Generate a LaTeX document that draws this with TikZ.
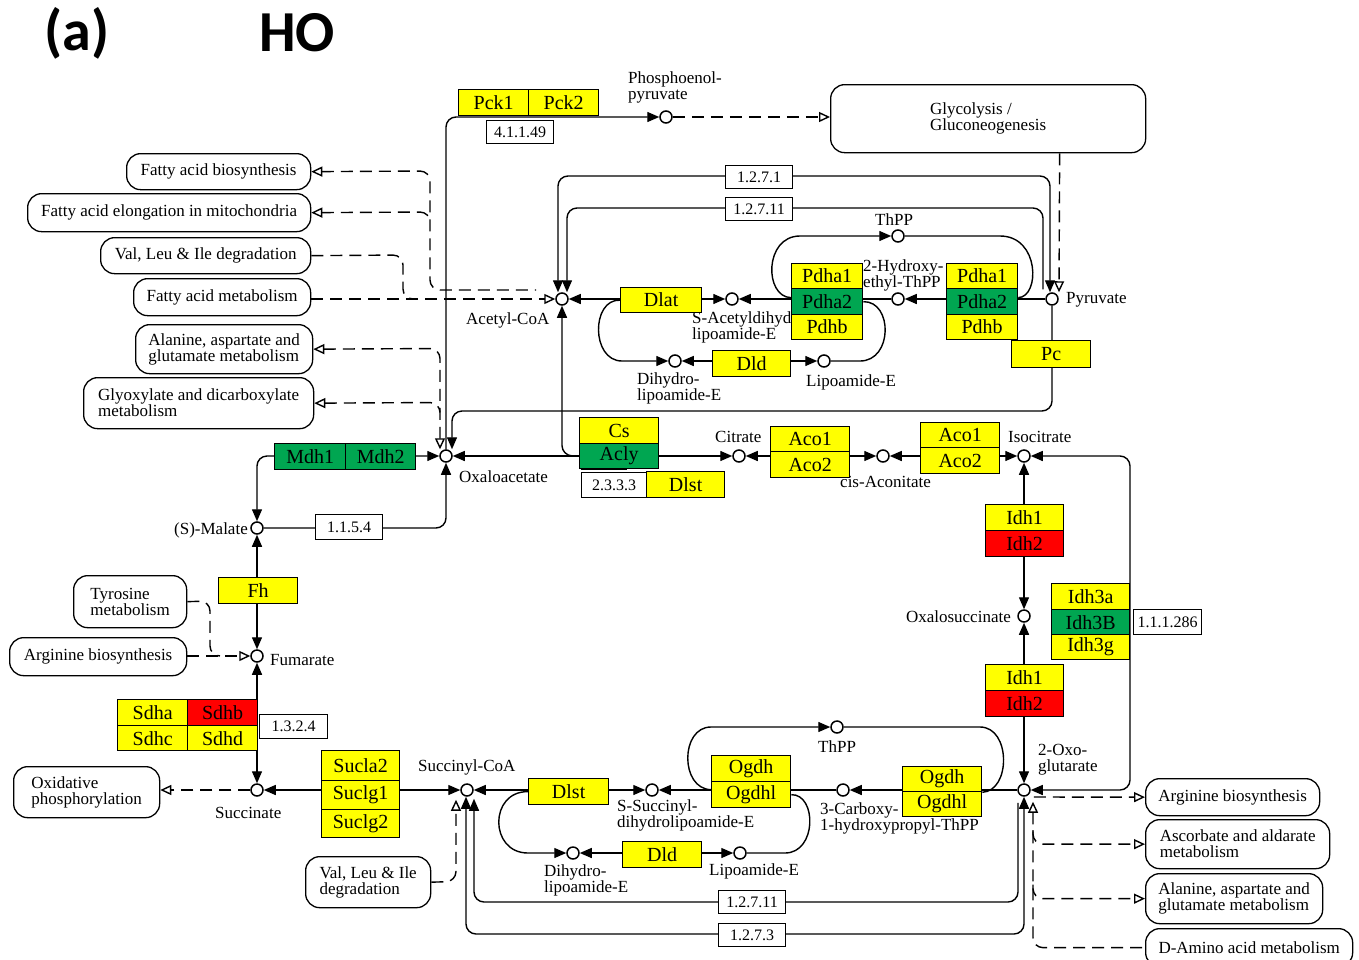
\documentclass[tikz,border=0pt]{standalone}
\usepackage{fontspec}
\setmainfont{Liberation Serif}
\newfontfamily\titlefont{Carlito}
\usetikzlibrary{arrows.meta,backgrounds,calc}
\definecolor{ky}{RGB}{255,255,0}
\definecolor{kg}{RGB}{0,166,81}
\definecolor{kr}{RGB}{255,0,0}
\newcommand\lblfont{\fontsize{17}{16}\selectfont}
\newcommand\enzfont{\fontsize{20}{20}\selectfont}
\newcommand\ecfont{\fontsize{16}{16}\selectfont}
\newcommand\EB[7]{\node[ebox, fill=#6, minimum width=#4pt, minimum height=#5pt] (#1) at (#2,#3) {#7};}
\newcommand\MB[6]{\node[mapbox, minimum width=#4pt, minimum height=#5pt] (#1) at (#2,#3) {#6};}
\tikzset{
  >={Triangle[length=12pt,width=10pt]},
  OT/.tip={Triangle[open,length=11pt,width=10pt]},
  cpd/.style={circle, draw, fill=white, line width=1.5pt, minimum size=12pt, inner sep=0pt},
  lbl/.style={font=\lblfont, inner sep=0pt, align=left},
  ebox/.style={draw, line width=1.3pt, inner sep=0pt, font=\enzfont, anchor=north west},
  ecbox/.style={ebox, fill=white, font=\ecfont},
  mapbox/.style={draw, rounded corners=14pt, line width=1.3pt, fill=white, font=\lblfont, align=left, inner sep=0pt, anchor=north west},
  ln/.style={line width=1.4pt},
  dsh/.style={line width=1.4pt, dash pattern=on 12pt off 7pt},
  rc/.style={rounded corners=10pt}
}
\pgfdeclarelayer{background}
\pgfsetlayers{background,main}
\begin{document}
\begin{tikzpicture}[x=1pt,y=-1pt]
\useasboundingbox (0,0) rectangle (1359,959);
% title
\node[font=\titlefont\bfseries\fontsize{58}{58}\selectfont, inner sep=0pt] (ta) at (77,33) {(a)};
\node[font=\titlefont\bfseries\fontsize{58}{58}\selectfont, inner sep=0pt] (tho) at (297,33) {HO};

% compounds
\node[cpd] (pep) at (666,117) {};
\node[cpd] (acoa) at (562,299) {};
\node[cpd] (pyr) at (1052,299) {};
\node[cpd] (sacet) at (732,299) {};
\node[cpd] (heth) at (898,299) {};
\node[cpd] (thppa) at (898,236) {};
\node[cpd] (dhla) at (675,361) {};
\node[cpd] (lipa) at (824,361) {};
\node[cpd] (oaa) at (446,456) {};
\node[cpd] (cit) at (739,456) {};
\node[cpd] (cisa) at (883,456) {};
\node[cpd] (icit) at (1024,456) {};
\node[cpd] (oxs) at (1024,616) {};
\node[cpd] (oxg) at (1024,790) {};
\node[cpd] (mal) at (257,528) {};
\node[cpd] (fum) at (257,656) {};
\node[cpd] (suc) at (257,790) {};
\node[cpd] (scoa) at (467,790) {};
\node[cpd] (ssuc) at (652,790) {};
\node[cpd] (carb) at (843,790) {};
\node[cpd] (thppb) at (837,727) {};
\node[cpd] (dhlb) at (573,853) {};
\node[cpd] (lipb) at (740,853) {};

% compound labels
\node[lbl, anchor=west] (lpep) at (628,87) {Phosphoenol-\\pyruvate};
\node[lbl, anchor=west] (lacoa) at (466,320) {Acetyl-CoA};
\node[lbl, anchor=west] (lpyr) at (1066,300) {Pyruvate};
\node[lbl, anchor=west] (lsacet) at (692,327) {S-Acetyldihydro-\\lipoamide-E};
\node[lbl, anchor=west] (lheth) at (863,275) {2-Hydroxy-\\ethyl-ThPP};
\node[lbl, anchor=west] (lthppa) at (875,220) {ThPP};
\node[lbl, anchor=west] (ldhla) at (637,388) {Dihydro-\\lipoamide-E};
\node[lbl, anchor=west] (llipa) at (806,382) {Lipoamide-E};
\node[lbl, anchor=west] (loaa) at (459,477) {Oxaloacetate};
\node[lbl, anchor=west] (lcit) at (715,437) {Citrate};
\node[lbl, anchor=west] (lcisa) at (840,482) {cis-Aconitate};
\node[lbl, anchor=west] (licit) at (1008,437) {Isocitrate};
\node[lbl, anchor=east] (loxs) at (1011,617) {Oxalosuccinate};
\node[lbl, anchor=west] (loxg) at (1038,760) {2-Oxo-\\glutarate};
\node[lbl, anchor=east] (lmal) at (248,530) {(S)-Malate};
\node[lbl, anchor=west] (lfum) at (270,660) {Fumarate};
\node[lbl, anchor=west] (lsuc) at (215,813) {Succinate};
\node[lbl, anchor=west] (lscoa) at (418,767) {Succinyl-CoA};
\node[lbl, anchor=west] (lssuc) at (617,815) {S-Succinyl-\\dihydrolipoamide-E};
\node[lbl, anchor=west] (lcarb) at (820,818) {3-Carboxy-\\1-hydroxypropyl-ThPP};
\node[lbl, anchor=west] (lthppb) at (818,747) {ThPP};
\node[lbl, anchor=west] (ldhlb) at (544,880) {Dihydro-\\lipoamide-E};
\node[lbl, anchor=west] (llipb) at (709,871) {Lipoamide-E};

% map boxes
\MB{glyc}{830}{84}{315}{68}{Glycolysis /\\Gluconeogenesis}
\MB{fab}{126}{153}{184}{36}{Fatty acid biosynthesis}
\MB{fae}{27}{193}{283}{38}{Fatty acid elongation in mitochondria}
\MB{val1}{100}{237}{210}{36}{Val, Leu \& Ile degradation}
\MB{fam}{133}{278}{177}{37}{Fatty acid metabolism}
\MB{ala1}{135}{324}{177}{49}{Alanine, aspartate and\\glutamate metabolism}
\MB{gly}{83}{377}{230}{51}{Glyoxylate and dicarboxylate\\metabolism}
\MB{tyr}{73}{575}{113}{52}{Tyrosine\\metabolism}
\MB{arga}{9}{637}{177}{38}{Arginine biosynthesis}
\MB{oxp}{13}{766}{146}{51}{Oxidative\\phosphorylation}
\MB{val2}{305}{856}{125}{51}{Val, Leu \& Ile\\degradation}
\MB{argb}{1145}{778}{174}{37}{Arginine biosynthesis}
\MB{asc}{1145}{819}{184}{49}{Ascorbate and aldarate\\metabolism}
\MB{alab}{1145}{873}{177}{50}{Alanine, aspartate and\\glutamate metabolism}
\MB{dam}{1145}{928}{207}{38}{D-Amino acid metabolism}

% enzyme boxes
\EB{pcka}{458}{89}{70}{26}{ky}{Pck1}
\EB{pckb}{528}{89}{70}{26}{ky}{Pck2}
\node[ecbox, minimum width=67pt, minimum height=23pt] (ecpck) at (486,120) {4.1.1.49};
\node[ecbox, minimum width=67pt, minimum height=23pt] (ecA) at (725,165) {1.2.7.1};
\node[ecbox, minimum width=67pt, minimum height=23pt] (ecB) at (725,197) {1.2.7.11};
\EB{dlat}{620}{287}{81}{25}{ky}{Dlat}
\EB{pdhLa}{791}{263}{71}{25}{ky}{Pdha1}
\EB{pdhLb}{791}{288}{71}{26}{kg}{Pdha2}
\EB{pdhLc}{791}{314}{71}{25}{ky}{Pdhb}
\EB{pdhRa}{946}{263}{71}{25}{ky}{Pdha1}
\EB{pdhRb}{946}{288}{71}{26}{kg}{Pdha2}
\EB{pdhRc}{946}{314}{71}{25}{ky}{Pdhb}
\EB{pc}{1011}{340}{79}{27}{ky}{Pc}
\EB{dlda}{712}{350}{78}{26}{ky}{Dld}
\EB{cs}{579}{417}{79}{26}{ky}{Cs}
\EB{acly}{579}{443}{79}{25}{kg}{Acly}
\node[ecbox, minimum width=65pt, minimum height=25pt] (ecacl) at (581,472) {2.3.3.3};
\EB{dlsta}{646}{471}{78}{26}{ky}{Dlst}
\EB{acoLa}{770}{426}{79}{25}{ky}{Aco1}
\EB{acoLb}{770}{451}{79}{26}{ky}{Aco2}
\EB{acoRa}{920}{422}{79}{25}{ky}{Aco1}
\EB{acoRb}{920}{447}{79}{26}{ky}{Aco2}
\EB{mdha}{274}{443}{71}{26}{kg}{Mdh1}
\EB{mdhb}{345}{443}{70}{26}{kg}{Mdh2}
\node[ecbox, minimum width=67pt, minimum height=25pt] (ecmal) at (315,514) {1.1.5.4};
\EB{fh}{218}{577}{79}{26}{ky}{Fh}
\EB{idhUa}{985}{504}{78}{26}{ky}{Idh1}
\EB{idhUb}{985}{530}{78}{26}{kr}{Idh2}
\EB{idhca}{1051}{583}{78}{26}{ky}{Idh3a}
\EB{idhcb}{1051}{609}{78}{25}{kg}{Idh3B}
\EB{idhcc}{1051}{634}{78}{25}{ky}{Idh3g}
\node[ecbox, minimum width=68pt, minimum height=25pt] (ecidh) at (1133,609) {1.1.1.286};
\EB{idhLa}{985}{664}{78}{26}{ky}{Idh1}
\EB{idhLb}{985}{690}{78}{26}{kr}{Idh2}
\EB{sdha}{117}{699}{70}{26}{ky}{Sdha}
\EB{sdhb}{187}{699}{70}{26}{kr}{Sdhb}
\EB{sdhc}{117}{725}{70}{25}{ky}{Sdhc}
\EB{sdhd}{187}{725}{70}{25}{ky}{Sdhd}
\node[ecbox, minimum width=68pt, minimum height=24pt] (ecsdh) at (259,714) {1.3.2.4};
\EB{sucla}{321}{750}{78}{30}{ky}{Sucla2}
\EB{suclb}{321}{780}{78}{29}{ky}{Suclg1}
\EB{suclc}{321}{809}{78}{28}{ky}{Suclg2}
\EB{dlstb}{528}{778}{80}{26}{ky}{Dlst}
\EB{ogdhLa}{711}{755}{79}{26}{ky}{Ogdh}
\EB{ogdhLb}{711}{781}{79}{26}{ky}{Ogdhl}
\EB{ogdhRa}{902}{766}{79}{25}{ky}{Ogdh}
\EB{ogdhRb}{902}{791}{79}{25}{ky}{Ogdhl}
\EB{dldb}{622}{841}{79}{26}{ky}{Dld}
\node[ecbox, minimum width=67pt, minimum height=23pt] (ecC) at (718,890) {1.2.7.11};
\node[ecbox, minimum width=67pt, minimum height=23pt] (ecD) at (718,923) {1.2.7.3};

\coordinate (dv) at (1033,0);

\begin{pgfonlayer}{background}
\fill[white] (0,0) rectangle (1359,959);
\draw[line width=1pt] ([yshift=3pt]ecacl.north west) -- ([xshift=-20pt,yshift=3pt]ecacl.north east);
% top
\draw[dsh,-OT] (pep) -- (pep -| glyc.west);
\draw[dsh,-OT] ([xshift=71.5pt]glyc.south) -- ([xshift=7pt]pyr.north);
\draw[ln,<->,rc] ([xshift=-2pt]pyr.north) -- (1050,176) -- (558,176) -- ([xshift=-4pt]acoa.north);
\draw[ln,->,rc] ([xshift=-9pt,yshift=3pt]pyr.north) -- (1043,208) -- (567,208) -- ([xshift=5pt]acoa.north);
\draw[ln,->] (pyr) -- (heth);
\draw[ln,->] (heth) -- (sacet);
\draw[ln,<->] (acoa) -- (sacet);
\draw[ln,->] (dlat.west) .. controls (591,299) and (591,361) .. (622,361) -- (dhla);
\draw[ln,<->] (dhla) -- (lipa);
\draw[ln] (lipa) -- (860,361) .. controls (893,361) and (893,301) .. (pdhLb.east);
\draw[ln,->] ([yshift=4pt]pdhLb.west) .. controls (764,297) and (764,236) .. (800,236) -- (thppa);
\draw[ln] (thppa) -- (1000,236) .. controls (1040,236) and (1040,297) .. ([yshift=4pt]pdhRb.east);
\draw[ln,->,rc] (pyr) -- (1052,411) -- (452,411) -- ([xshift=6pt]oaa.north);
\draw[ln,->,rc] (oaa) -- (446,117) -- (pep);
% left maps
\draw[dsh,-OT] (fam.east |- acoa) -- (acoa);
\draw[dsh,rc] (val1.east) -- (403,255) -- (403,299) -- (413,299);
\draw[dsh,OT-,rc] (fab.east) -- (430,171) -- (430,290) -- (536,290);
\draw[dsh,OT-,rc] (fae.east) -- (430,212) -- (430,222);
\draw[dsh,OT-OT,rc] (ala1.east) -- (440,348.5) -- ([xshift=-6pt]oaa.north);
\draw[dsh,OT-,rc] (gly.east) -- (440,402.5) -- (440,412.5);
% left cycle
\draw[ln,<->,rc] (mal) -- (257,456) -- (oaa);
\draw[ln,->,rc] (mal) -- (446,528) -- (oaa);
\draw[ln,<->] (fum) -- (mal);
\draw[ln,<->] (suc) -- (fum);
\draw[dsh,rc] (tyr.east) -- (210,601) -- (210,656) -- (220,656);
\draw[dsh,-OT] (arga.east |- fum) -- (fum);
\draw[dsh,-OT] (suc) -- (oxp.east |- suc);
\draw[ln,<->] (suc) -- (scoa);
\draw[dsh,-OT,rc] (val2.east) -- (456,881.5) -- ([xshift=-11pt,yshift=-3pt]scoa.south);
% bottom
\draw[ln,->,rc] ([xshift=-6pt,yshift=-6pt]oxg.south) -- (1018,902) -- (474,902) -- ([xshift=7pt,yshift=-2pt]scoa.south);
\draw[ln,<->,rc] (oxg.south) -- (1024,934) -- (466,934) -- ([xshift=-1pt]scoa.south);
\draw[ln,<->] (scoa) -- (ssuc);
\draw[ln,->] (dlstb.west) .. controls (489,791) and (489,853) .. (528,853) -- (dhlb);
\draw[ln,<->] (dhlb) -- (lipb);
\draw[ln] (lipb) -- (785,853) .. controls (817,853) and (817,794) .. (ogdhLb.east);
\draw[ln,->] (carb) -- (ssuc);
\draw[ln,->] (oxg) -- (carb);
\draw[ln,->] ([yshift=5pt]ogdhLb.west) .. controls (680,789) and (680,727) .. (711,727) -- (thppb);
\draw[ln] (thppb) -- (980,727) .. controls (1011,727) and (1011,791) .. (ogdhRa.south east);
% right cycle
\draw[ln,<->] (oxs) -- (icit);
\draw[ln,<->] (oxg) -- (oxs);
\draw[ln,<->,rc] (icit) -- (1130,456) -- (1130,790) -- (oxg);
\draw[ln,<->] (cisa) -- (icit);
\draw[ln,<->] (cit) -- (cisa);
\draw[ln,<->] (oaa) -- (cit);
\draw[ln,->,rc] (acly.west) -- (562,455.5) -- (acoa);
% right maps
\draw[dsh,-OT] ([xshift=3pt,yshift=-7pt]oxg.east) -- (argb.west);
\draw[dsh,OT-,rc] ([xshift=9pt,yshift=-5pt]oxg.south) -- (dv |- dam.west) -- (dam.west);
\draw[dsh,-OT,rc] ([yshift=14pt]asc.west -| dv) -- (asc.west -| dv) -- (asc.west);
\draw[dsh,-OT,rc] ([yshift=14pt]alab.west -| dv) -- (alab.west -| dv) -- (alab.west);
\end{pgfonlayer}
\end{tikzpicture}
\end{document}
